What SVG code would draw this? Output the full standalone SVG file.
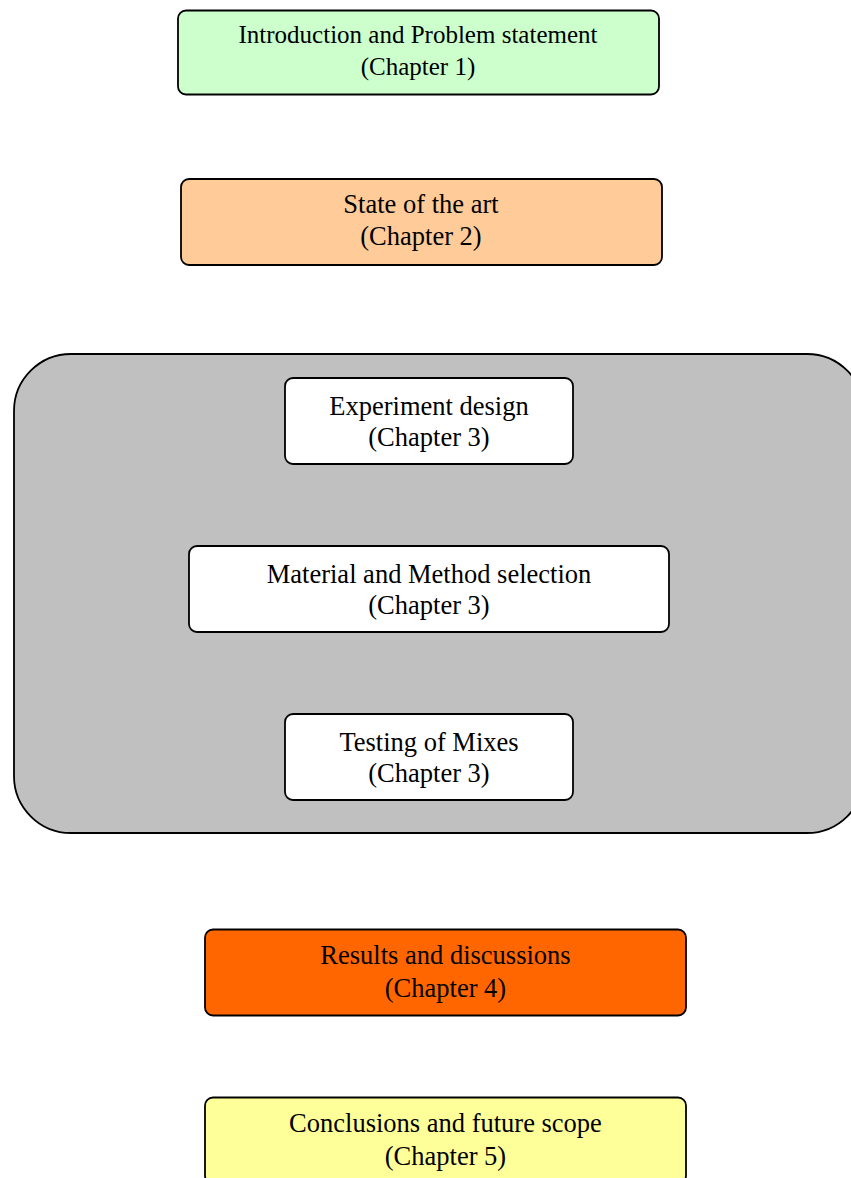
<svg xmlns="http://www.w3.org/2000/svg" width="851" height="1178" viewBox="0 0 851 1178">
  <style>
    .box { stroke: #000; stroke-width: 1.8; }
    .lbl { font-family: "Liberation Serif", "Times New Roman", serif; font-size: 26.5px; fill: #000; text-anchor: middle; }
    .lbl.sm { font-size: 25px; }
  </style>
  <rect width="851" height="1178" fill="#fff"/>

  <!-- chapter 3 grouping panel -->
  <g id="chapter3-panel">
    <rect class="box" x="14" y="354" width="850" height="479" rx="57" ry="57" fill="#c0c0c0"/>
  </g>

  <g id="connectors"></g>

  <g id="intro">
    <rect class="box" x="178" y="10.5" width="481" height="84" rx="8" fill="#ccffcc"/>
    <text class="lbl sm" x="418" y="43">Introduction and Problem statement</text>
    <text class="lbl sm" x="418" y="74.5">(Chapter 1)</text>
  </g>

  <g id="state-of-art">
    <rect class="box" x="181" y="179" width="481" height="86" rx="8" fill="#ffcc99"/>
    <text class="lbl" x="421" y="213">State of the art</text>
    <text class="lbl" x="421" y="245">(Chapter 2)</text>
  </g>

  <g id="experiment-design">
    <rect class="box" x="285" y="378" width="288" height="86" rx="8" fill="#fff"/>
    <text class="lbl" x="429" y="415">Experiment design</text>
    <text class="lbl" x="429" y="446">(Chapter 3)</text>
  </g>

  <g id="material-method">
    <rect class="box" x="189" y="546" width="480" height="86" rx="8" fill="#fff"/>
    <text class="lbl" x="429" y="583">Material and Method selection</text>
    <text class="lbl" x="429" y="614">(Chapter 3)</text>
  </g>

  <g id="testing">
    <rect class="box" x="285" y="714" width="288" height="86" rx="8" fill="#fff"/>
    <text class="lbl" x="429" y="751">Testing of Mixes</text>
    <text class="lbl" x="429" y="782">(Chapter 3)</text>
  </g>

  <g id="results">
    <rect class="box" x="205" y="929.5" width="481" height="86" rx="8" fill="#ff6600"/>
    <text class="lbl" x="445.5" y="964">Results and discussions</text>
    <text class="lbl" x="445.5" y="997">(Chapter 4)</text>
  </g>

  <g id="conclusions">
    <rect class="box" x="205" y="1097.5" width="481" height="86" rx="8" fill="#ffff99"/>
    <text class="lbl" x="445.5" y="1132">Conclusions and future scope</text>
    <text class="lbl" x="445.5" y="1165">(Chapter 5)</text>
  </g>
</svg>
